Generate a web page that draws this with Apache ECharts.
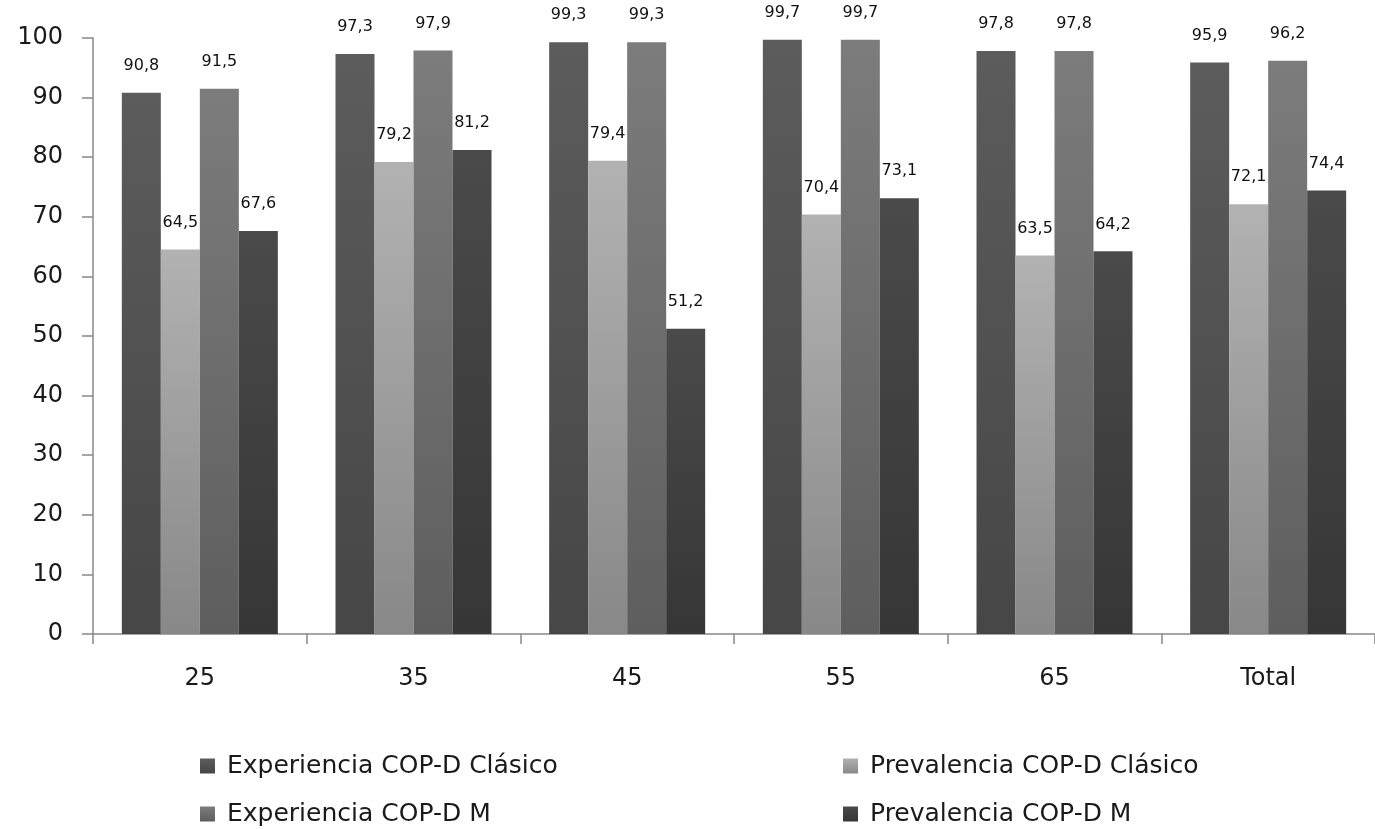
<!DOCTYPE html>
<html>
<head>
<meta charset="utf-8">
<script src="https://cdn.jsdelivr.net/npm/echarts@6/dist/echarts.min.js"></script>
<style>
  html, body { margin: 0; padding: 0; background: #fff; }
  #chart { width: 1375px; height: 829px; }
</style>
</head>
<body>
<div id="chart"></div>
<script>
// Age groups and totals
const categories = ['25', '35', '45', '55', '65', 'Total'];

const seriesNames = [
  'Experiencia COP-D Clásico',
  'Prevalencia COP-D Clásico',
  'Experiencia COP-D M',
  'Prevalencia COP-D M'
];

const experienciaClasico = [90.8, 97.3, 99.3, 99.7, 97.8, 95.9];
const prevalenciaClasico = [64.5, 79.2, 79.4, 70.4, 63.5, 72.1];
const experienciaM = [91.5, 97.9, 99.3, 99.7, 97.8, 96.2];
const prevalenciaM = [67.6, 81.2, 51.2, 73.1, 64.2, 74.4];

const yTicks = { min: 0, max: 100, interval: 10 };

// vertical gray gradients, lighter at the top
function grad(top, bottom) {
  return new echarts.graphic.LinearGradient(0, 0, 0, 1, [
    { offset: 0, color: top },
    { offset: 1, color: bottom }
  ]);
}
const fills = [
  grad('#5c5c5c', '#464646'),
  grad('#b2b2b2', '#888888'),
  grad('#7c7c7c', '#5e5e5e'),
  grad('#4a4a4a', '#363636')
];
const legendColors = ['#555555', '#a6a6a6', '#727272', '#434343'];

const values = [experienciaClasico, prevalenciaClasico, experienciaM, prevalenciaM];

const chart = echarts.init(document.getElementById('chart'));

const series = values.map((vals, i) => ({
  name: seriesNames[i],
  type: 'bar',
  data: vals,
  barWidth: 39,
  barGap: '0%',
  color: legendColors[i],
  itemStyle: { color: fills[i] },
  label: {
    show: true,
    position: 'top',
    distance: 19,
    color: '#111',
    fontFamily: 'DejaVu Sans',
    fontSize: 16,
    formatter: p => String(p.value).replace('.', ',')
  },
  emphasis: { disabled: true }
}));

// one legend entry per box: two columns, two rows
const legendPos = [
  { left: 200, top: 751 },
  { left: 843, top: 751 },
  { left: 200, top: 799 },
  { left: 843, top: 799 }
];
const legends = seriesNames.map((name, i) => ({
  left: legendPos[i].left,
  top: legendPos[i].top,
  padding: 0,
  itemWidth: 15, itemHeight: 15,
  icon: 'rect',
  textStyle: {
    fontFamily: 'DejaVu Sans', fontSize: 25, color: '#1a1a1a',
    lineHeight: 30, padding: [0, 0, 0, 7]
  },
  data: [name]
}));

chart.setOption({
  animation: false,
  backgroundColor: '#ffffff',
  grid: { left: 93, right: 0, top: 38, bottom: 195, containLabel: false },
  legend: legends,
  xAxis: {
    type: 'category',
    data: categories,
    axisLine: { lineStyle: { color: '#888888', width: 1.5 } },
    axisTick: { show: true, alignWithLabel: false, length: 10, lineStyle: { color: '#888888', width: 1.5 } },
    axisLabel: { color: '#1a1a1a', fontFamily: 'DejaVu Sans', fontSize: 24, margin: 33 }
  },
  yAxis: {
    type: 'value',
    min: yTicks.min, max: yTicks.max, interval: yTicks.interval,
    axisLine: { show: true, lineStyle: { color: '#888888', width: 1.5 } },
    axisTick: { show: true, length: 11, lineStyle: { color: '#888888', width: 1.5 } },
    splitLine: { show: false },
    axisLabel: { color: '#1a1a1a', fontFamily: 'DejaVu Sans', fontSize: 24, margin: 30 }
  },
  series
});
</script>
</body>
</html>
